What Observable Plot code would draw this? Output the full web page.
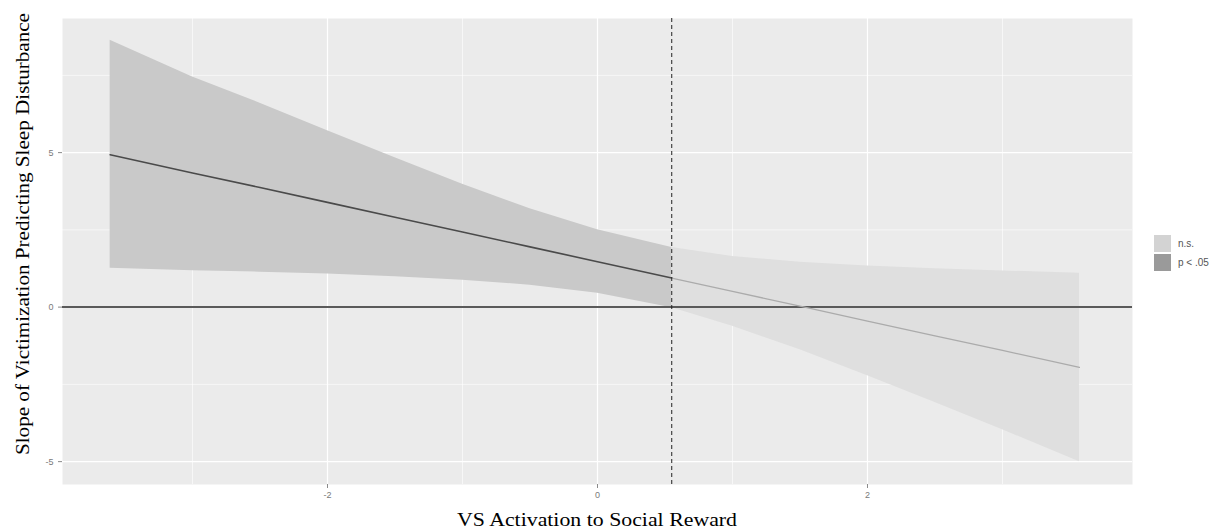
<!DOCTYPE html>
<html><head><meta charset="utf-8">
<script src="https://cdn.jsdelivr.net/npm/d3@7"></script>
<script src="https://cdn.jsdelivr.net/npm/@observablehq/plot@0.6"></script>
<style>
body{margin:0;background:#fff}
#wrap{position:relative;width:1220px;height:531px}
.leg{position:absolute;left:1154px;font-family:"Liberation Sans",Arial,sans-serif;font-size:10px;color:#555;display:flex;align-items:center}
.leg span.k{display:inline-block;width:17px;height:17px;margin-right:7px}
</style>
</head><body><div id="wrap"></div>
<script>
// Moderator values (VS activation)
const xs     = [-3.61, -3.0, -2.5, -2.0, -1.5, -1.0, -0.5, 0.0, 0.55, 1.0, 1.5, 2.0, 2.5, 3.0, 3.57];
// Simple slope estimate
const slope  = [4.93, 4.34, 3.87, 3.39, 2.91, 2.43, 1.95, 1.47, 0.94, 0.51, 0.03, -0.45, -0.93, -1.40, -1.95];
// Confidence band
const upper  = [8.64, 7.45, 6.60, 5.71, 4.83, 3.98, 3.18, 2.50, 1.93, 1.64, 1.45, 1.33, 1.24, 1.17, 1.10];
const lower  = [1.26, 1.18, 1.13, 1.07, 0.98, 0.87, 0.71, 0.45, -0.02, -0.62, -1.38, -2.22, -3.09, -3.97, -5.00];
const jn = 0.55; // Johnson-Neyman point
const xMajor = [-2, 0, 2], xMinor = [-3, -1, 1, 3];
const yMajor = [-5, 0, 5], yMinor = [-2.5, 2.5, 7.5];
const groups = ["n.s.", "p < .05"];
const groupFill = ["#d3d3d3", "#9a9a9a"];
const xTitle = "VS Activation to Social Reward";
const yTitle = "Slope of Victimization Predicting Sleep Disturbance";

const rows = xs.map((x, i) => ({x, est: slope[i], hi: upper[i], lo: lower[i]}));
const sigRows = rows.filter(d => d.x <= jn);
const nsRows = rows.filter(d => d.x >= jn);

const serif = "'Liberation Serif','Times New Roman',serif";
const sans = "'Liberation Sans',Arial,sans-serif";

const chart = Plot.plot({
  width: 1220, height: 531,
  marginLeft: 62, marginRight: 88, marginTop: 18, marginBottom: 47,
  style: {background: "#fff", fontFamily: sans},
  x: {domain: [-3.963, 3.963], axis: null},
  y: {domain: [-5.74, 9.34], axis: null},
  marks: [
    Plot.frame({fill: "#ebebeb", stroke: null}),
    Plot.gridX(xMinor, {stroke: "#fff", strokeOpacity: 1, strokeWidth: 0.6}),
    Plot.gridY(yMinor, {stroke: "#fff", strokeOpacity: 1, strokeWidth: 0.6}),
    Plot.gridX(xMajor, {stroke: "#fff", strokeOpacity: 1, strokeWidth: 1.2}),
    Plot.gridY(yMajor, {stroke: "#fff", strokeOpacity: 1, strokeWidth: 1.2}),
    Plot.areaY(sigRows, {x: "x", y1: "lo", y2: "hi", fill: "#c9c9c9"}),
    Plot.areaY(nsRows, {x: "x", y1: "lo", y2: "hi", fill: "#dfdfdf"}),
    Plot.ruleY([0], {stroke: "#5a5a5a", strokeWidth: 2}),
    Plot.lineY(sigRows, {x: "x", y: "est", stroke: "#4a4a4a", strokeWidth: 1.6}),
    Plot.lineY(nsRows, {x: "x", y: "est", stroke: "#ababab", strokeWidth: 1.3}),
    Plot.ruleX([jn], {stroke: "#222", strokeWidth: 1, strokeDasharray: "4,3"}),
    Plot.axisX(xMajor, {tickSize: 4, tickPadding: 3, stroke: "#8a8a8a", fill: "#7a7a7a", fontSize: 9, label: null, tickFormat: d => String(d)}),
    Plot.axisY(yMajor, {tickSize: 4, tickPadding: 5, stroke: "#8a8a8a", fill: "#7a7a7a", fontSize: 9, label: null, tickFormat: d => String(d)})
  ]
});
const wrap = document.getElementById("wrap");
wrap.appendChild(chart);

// Axis titles
const svg = d3.select(chart);
svg.append("text")
  .attr("x", 597).attr("y", 526)
  .attr("text-anchor", "middle")
  .attr("font-family", serif).attr("font-size", 18).attr("fill", "#000")
  .attr("textLength", 280).attr("lengthAdjust", "spacingAndGlyphs")
  .text(xTitle);
svg.append("text")
  .attr("transform", "translate(29,234) rotate(-90)")
  .attr("text-anchor", "middle")
  .attr("font-family", serif).attr("font-size", 18).attr("fill", "#000")
  .attr("textLength", 442).attr("lengthAdjust", "spacingAndGlyphs")
  .text(yTitle);

groups.forEach((g, i) => {
  const d = document.createElement("div");
  d.className = "leg";
  d.style.top = (235 + i * 19) + "px";
  d.innerHTML = `<span class="k" style="background:${groupFill[i]}"></span>${g}`;
  wrap.appendChild(d);
});
</script>
</body></html>
